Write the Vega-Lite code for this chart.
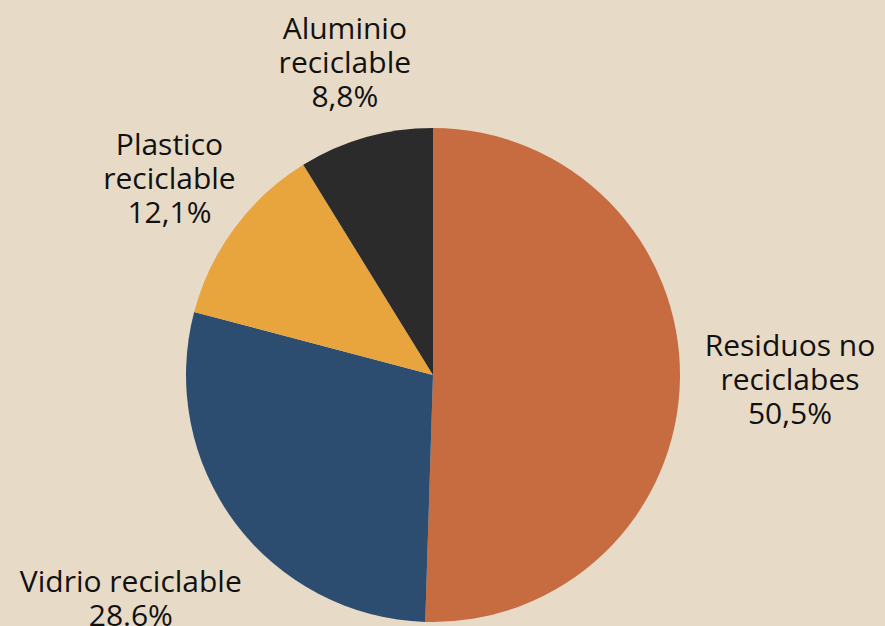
{
  "$schema": "https://vega.github.io/schema/vega-lite/v6.json",
  "width": 866,
  "height": 494,
  "autosize": "none",
  "padding": {"top": 128, "bottom": 4, "left": 0, "right": 19},
  "background": "#e7dac7",
  "config": {"view": {"stroke": null}},
  "data": {
    "values": [
      {"residuo": "Residuos no reciclabes", "texto": "Residuos no|reciclabes|50,5%", "valor": 50.5, "orden": 1},
      {"residuo": "Vidrio reciclable", "texto": "Vidrio reciclable|28.6%", "valor": 28.6, "orden": 2},
      {"residuo": "Plastico reciclable", "texto": "Plastico|reciclable|12,1%", "valor": 12.1, "orden": 3},
      {"residuo": "Aluminio reciclable", "texto": "Aluminio|reciclable|8,8%", "valor": 8.8, "orden": 4}
    ]
  },
  "transform": [
    {"stack": "valor", "groupby": [], "sort": [{"field": "orden"}], "as": ["v0", "v1"]},
    {"calculate": "(datum.v0 + datum.v1) / 2", "as": "medio"},
    {"calculate": "split(datum.texto, '|')", "as": "etiqueta"}
  ],
  "layer": [
    {
      "mark": {"type": "arc", "outerRadius": 247},
      "encoding": {
        "theta": {"field": "v0", "type": "quantitative", "scale": {"domain": [0, 100]}},
        "theta2": {"field": "v1"},
        "color": {
          "field": "residuo",
          "type": "nominal",
          "scale": {
            "domain": ["Residuos no reciclabes", "Vidrio reciclable", "Plastico reciclable", "Aluminio reciclable"],
            "range": ["#c76b41", "#2d4d70", "#e8a43d", "#2b2b2b"]
          },
          "legend": null
        }
      }
    },
    {
      "transform": [{"filter": "datum.residuo == 'Residuos no reciclabes'"}],
      "mark": {"type": "text", "radius": 357, "dy": -34, "font": "Open Sans", "fontSize": 30, "lineHeight": 34, "color": "#111111", "align": "center", "baseline": "middle"},
      "encoding": {
        "theta": {"field": "medio", "type": "quantitative"},
        "text": {"field": "etiqueta"}
      }
    },
    {
      "transform": [{"filter": "datum.residuo == 'Vidrio reciclable'"}],
      "mark": {"type": "text", "radius": 377, "dy": -17, "font": "Open Sans", "fontSize": 30, "lineHeight": 34, "color": "#111111", "align": "center", "baseline": "middle"},
      "encoding": {
        "theta": {"field": "medio", "type": "quantitative"},
        "text": {"field": "etiqueta"}
      }
    },
    {
      "transform": [{"filter": "datum.residuo == 'Plastico reciclable'"}],
      "mark": {"type": "text", "radius": 328, "dy": -34, "font": "Open Sans", "fontSize": 30, "lineHeight": 34, "color": "#111111", "align": "center", "baseline": "middle"},
      "encoding": {
        "theta": {"field": "medio", "type": "quantitative"},
        "text": {"field": "etiqueta"}
      }
    },
    {
      "transform": [{"filter": "datum.residuo == 'Aluminio reciclable'"}],
      "mark": {"type": "text", "radius": 323, "dy": -34, "font": "Open Sans", "fontSize": 30, "lineHeight": 34, "color": "#111111", "align": "center", "baseline": "middle"},
      "encoding": {
        "theta": {"field": "medio", "type": "quantitative"},
        "text": {"field": "etiqueta"}
      }
    }
  ]
}
